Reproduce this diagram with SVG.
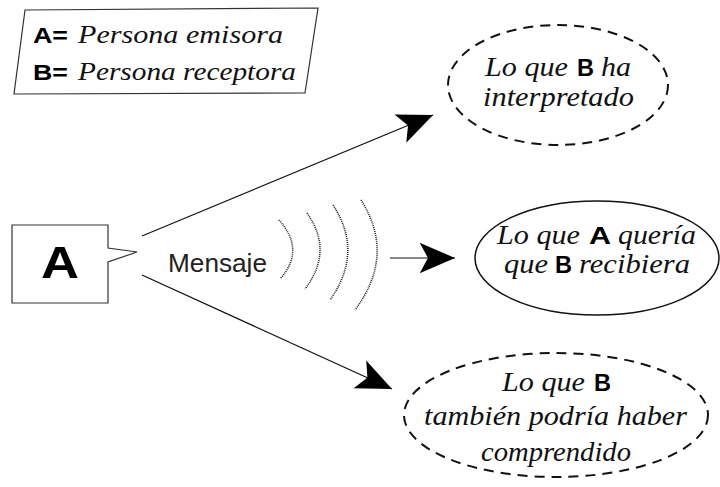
<svg xmlns="http://www.w3.org/2000/svg" width="720" height="487" viewBox="0 0 720 487">
<style>
.it{font-family:"Liberation Serif","Times New Roman",serif;font-style:italic;font-size:27px;fill:#111}
.lg{font-size:26px}
.bd{font-family:"Liberation Sans",Arial,sans-serif;font-weight:bold;font-size:24px;fill:#000}
.bl{font-size:22px}
.dash{fill:none;stroke:#111;stroke-width:2;stroke-dasharray:10 7}
.conn{fill:none;stroke:#111;stroke-width:1.2}
.wave{fill:none;stroke:#222;stroke-width:1.6;stroke-dasharray:1 1}
</style>
<defs>
<marker id="ah" markerUnits="userSpaceOnUse" markerWidth="40" markerHeight="40" refX="0" refY="0" viewBox="-32 -16 34 32" orient="auto" overflow="visible">
<path d="M0,0 L-30,-13 L-23,0 L-30,13 Z" fill="#000"/>
</marker>
</defs>
<g id="legend">
<polygon points="25,10 318,8 305,93 14,94" fill="#fff" stroke="#333" stroke-width="1.2"/>
<text class="bd bl" x="33" y="43" textLength="35" lengthAdjust="spacingAndGlyphs">A=</text>
<text class="it lg" x="78" y="43" textLength="205" lengthAdjust="spacingAndGlyphs">Persona emisora</text>
<text class="bd bl" x="33" y="80" textLength="35" lengthAdjust="spacingAndGlyphs">B=</text>
<text class="it lg" x="78" y="80" textLength="218" lengthAdjust="spacingAndGlyphs">Persona receptora</text>
</g>
<g id="nodeA">
<path d="M12,225 H108 V248 L137,252 L108,262 V303 H12 Z" fill="#fff" stroke="#333" stroke-width="1.2"/>
<text x="60" y="278" text-anchor="middle" style="font-family:'Liberation Sans',Arial,sans-serif;font-weight:bold;font-size:44px" textLength="38" lengthAdjust="spacingAndGlyphs">A</text>
</g>
<g id="mensaje">
<text x="168" y="272" style="font-family:'Liberation Sans',Arial,sans-serif;font-size:25px;fill:#222" textLength="99" lengthAdjust="spacingAndGlyphs">Mensaje</text>
<path class="wave" d="M279,220 Q306,250 280,279"/>
<path class="wave" d="M307,213 Q334,251 305,289"/>
<path class="wave" d="M333,205 Q364,252 330,300"/>
<path class="wave" d="M361,200 Q396,255 355,310"/>
</g>
<g id="connectors">
<line class="conn" x1="142" y1="236" x2="433" y2="115" marker-end="url(#ah)"/>
<line class="conn" x1="142" y1="275" x2="392" y2="389" marker-end="url(#ah)"/>
<line class="conn" x1="390" y1="258" x2="455" y2="258" stroke="#555" marker-end="url(#ah)"/>
</g>
<g id="nodeInterpretado">
<ellipse class="dash" cx="558" cy="85" rx="110" ry="60"/>
<text class="it" x="485" y="76" textLength="83" lengthAdjust="spacingAndGlyphs">Lo que</text>
<text class="bd" x="577" y="76" textLength="17" lengthAdjust="spacingAndGlyphs">B</text>
<text class="it" x="601" y="76" textLength="30" lengthAdjust="spacingAndGlyphs">ha</text>
<text class="it" x="483" y="106" textLength="151" lengthAdjust="spacingAndGlyphs">interpretado</text>
</g>
<g id="nodeQueria">
<ellipse cx="597" cy="258" rx="122" ry="57" fill="none" stroke="#111" stroke-width="1.5"/>
<text class="it" x="497" y="244" textLength="83" lengthAdjust="spacingAndGlyphs">Lo que</text>
<text class="bd" x="589" y="244" textLength="22" lengthAdjust="spacingAndGlyphs">A</text>
<text class="it" x="618" y="244" textLength="78" lengthAdjust="spacingAndGlyphs">quería</text>
<text class="it" x="504" y="273" textLength="44" lengthAdjust="spacingAndGlyphs">que</text>
<text class="bd" x="555" y="273" textLength="17" lengthAdjust="spacingAndGlyphs">B</text>
<text class="it" x="579" y="273" textLength="111" lengthAdjust="spacingAndGlyphs">recibiera</text>
</g>
<g id="nodeComprendido">
<ellipse class="dash" cx="556" cy="415" rx="152" ry="62"/>
<text class="it" x="502" y="391" textLength="83" lengthAdjust="spacingAndGlyphs">Lo que</text>
<text class="bd" x="594" y="391" textLength="17" lengthAdjust="spacingAndGlyphs">B</text>
<text class="it" x="424" y="425" textLength="263" lengthAdjust="spacingAndGlyphs">también podría haber</text>
<text class="it" x="481" y="461" textLength="150" lengthAdjust="spacingAndGlyphs">comprendido</text>
</g>
</svg>
